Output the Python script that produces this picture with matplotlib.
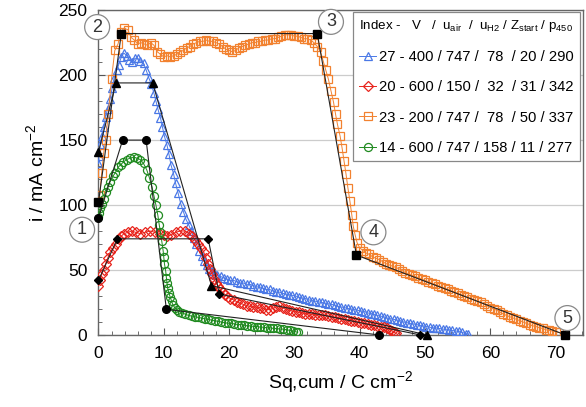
import matplotlib
matplotlib.use("Agg")
import matplotlib.pyplot as plt
from matplotlib.ticker import MultipleLocator

plt.rcParams['font.family'] = ['Liberation Sans', 'DejaVu Sans']
plt.rcParams['mathtext.fontset'] = 'custom'
plt.rcParams['mathtext.rm'] = 'Liberation Sans'
plt.rcParams['mathtext.it'] = 'Liberation Sans'

# ---------------- data ----------------
orange_x = [0.0, 0.2, 0.5, 0.8, 1.1, 1.5, 2.0, 2.5, 3.0, 3.4, 3.9, 4.5, 5.0, 5.5, 6.0, 6.5, 7.0, 7.5, 8.0, 8.5,
            9.0, 9.5, 10.0, 10.5, 11.0, 11.5, 12.0, 12.5, 13.0, 13.5, 14.0, 14.5, 15.0, 15.5, 16.0, 16.5, 17.0,
            17.5, 18.0, 18.5, 19.0, 19.5, 20.0, 20.5, 21.0, 21.5, 22.0, 22.5, 23.0, 23.5, 24.0, 24.5, 25.0, 25.5,
            26.0, 26.5, 27.0, 27.5, 28.0, 28.5, 29.0, 29.5, 30.0, 30.5, 31.0, 31.5, 32.0, 32.5, 33.0, 33.5, 34.0,
            34.4, 34.8, 35.2, 35.6, 36.0, 36.3, 36.6, 37.0, 37.3, 37.6, 37.9, 38.2, 38.5, 38.8, 39.0, 39.3, 39.6,
            40.0, 40.5, 41.0, 41.5, 42.0, 42.5, 43.0, 43.5, 44.0, 44.5, 45.0, 45.5, 46.0, 46.5, 47.0, 47.5, 48.0,
            48.5, 49.0, 49.5, 50.0, 50.5, 51.0, 51.5, 52.0, 52.5, 53.0, 53.5, 54.0, 54.5, 55.0, 55.5, 56.0, 56.5,
            57.0, 57.5, 58.0, 58.5, 59.0, 59.5, 60.0, 60.5, 61.0, 61.5, 62.0, 62.5, 63.0, 63.5, 64.0, 64.5, 65.0,
            65.5, 66.0, 66.5, 67.0, 67.5, 68.0, 68.5, 69.0, 69.5, 70.0, 70.5]
orange_y = [103, 108, 125, 140, 150, 170, 197, 219, 224, 233, 236, 235, 229, 227, 224, 225, 224, 223, 225, 223,
            218, 216, 214, 215, 214, 215, 216, 218, 219, 221, 222, 224, 225, 226, 226, 227, 226,
            226, 225, 224, 222, 220, 219, 218, 219, 221, 222, 223, 224, 225, 225, 226, 226, 227,
            227, 228, 228, 229, 230, 231, 231, 231, 230, 230, 229, 228, 228, 227, 225, 222, 218,
            211, 204, 197, 188, 179, 170, 162, 153, 144, 134, 124, 113, 103, 92, 84, 77, 71,
            67, 65, 63, 62, 60, 59, 58, 56.5, 55, 54, 53, 52, 51, 49.5, 48, 47, 46,
            45, 44, 43, 42, 41, 40, 39, 38, 37, 36, 35, 34, 33, 32, 31, 30, 29,
            28, 27, 26, 25, 24, 22.5, 21, 20, 19, 17.5, 16, 15, 14, 13, 12, 11, 10,
            9, 8, 7, 6.5, 5.5, 5, 4, 3.5, 3, 2.5, 2]

blue_x = [0.0, 0.1, 0.3, 0.5, 0.8, 1.1, 1.4, 1.8, 2.1, 2.4, 2.8, 3.1, 3.5, 3.9, 4.3, 4.7, 5.2, 5.6, 6.0, 6.4,
          6.9, 7.3, 7.7, 8.1, 8.5, 8.8, 9.1, 9.5, 9.8, 10.1, 10.5, 10.8, 11.1, 11.5, 11.8, 12.2, 12.6, 13.0,
          13.4, 13.8, 14.2, 14.6, 15.0, 15.4, 15.8, 16.2, 16.6, 17.0, 17.4, 17.8, 18.2, 18.7, 19.2, 19.7, 20.2,
          20.7, 21.2, 21.7, 22.2, 22.7, 23.2, 23.7, 24.2, 24.7, 25.2, 25.7, 26.2, 26.7, 27.2, 27.7, 28.2, 28.7,
          29.2, 29.7, 30.2, 30.7, 31.2, 31.7, 32.2, 32.7, 33.2, 33.7, 34.2, 34.7, 35.2, 35.7, 36.2, 36.7, 37.2,
          37.7, 38.2, 38.7, 39.2, 39.7, 40.2, 40.7, 41.2, 41.7, 42.2, 42.7, 43.2, 43.7, 44.2, 44.7, 45.2, 45.7,
          46.2, 46.7, 47.2, 47.7, 48.2, 48.7, 49.2, 49.7, 50.2, 50.7, 51.2, 51.7, 52.2, 52.7, 53.2, 53.7, 54.2,
          54.7, 55.2, 55.7, 56.2, 56.6]
blue_y = [132, 138, 147, 153, 160, 168, 174, 182, 190, 198, 204, 208, 214, 217, 215, 212, 210, 213, 213, 211,
          209, 204, 198, 193, 186, 180, 174, 167, 160, 153, 146, 139, 131, 124, 117, 109, 101, 95,
          89, 85, 80, 75, 70, 65, 61, 57, 54, 51, 49, 47, 46, 45, 44, 43, 42,
          42, 41, 40, 40, 39, 39, 38, 37, 37, 36, 35, 35, 34, 33, 33, 32, 31.5,
          31, 30.5, 30, 29, 28.5, 28, 27, 26.5, 26, 25.5, 25, 24.5, 24, 23.5, 23, 22, 21.5,
          21, 20.5, 20, 19.5, 19, 18.5, 18, 17, 16.5, 16, 15, 14.5, 14, 13, 12.5, 12, 11.5,
          11, 10, 9.5, 9, 8.5, 8, 7.5, 7, 6.5, 6, 5.5, 5.5, 5, 4.5, 4.5, 4, 3.5,
          3, 3, 2, 1, 0.5]

red_x = [0.0, 0.2, 0.5, 0.8, 1.1, 1.4, 1.8, 2.3, 2.7, 3.1, 3.5, 3.9, 4.5, 5.1, 5.7, 6.4, 7.1, 7.9, 8.7, 9.5,
         10.0, 10.5, 11.1, 11.8, 12.5, 13.3, 13.9, 14.4, 14.8, 15.3, 15.7, 16.1, 16.5, 16.8, 17.1, 17.4, 17.7,
         18.0, 18.3, 18.6, 19.0, 19.4, 19.8, 20.2, 20.7, 21.2, 21.7, 22.2, 22.7, 23.2, 23.7, 24.2, 24.7, 25.2,
         25.7, 26.2, 26.7, 27.2, 27.7, 28.2, 28.7, 29.2, 29.7, 30.2, 30.7, 31.2, 31.7, 32.2, 32.7, 33.2, 33.7,
         34.2, 34.7, 35.2, 35.7, 36.2, 36.7, 37.2, 37.7, 38.2, 38.7, 39.2, 39.7, 40.2, 40.7, 41.2, 41.7, 42.2,
         42.7, 43.2, 43.7, 44.2, 44.7, 45.0, 45.3, 45.6]
red_y = [38, 42, 47, 50, 55, 59, 64, 67, 70, 74, 76, 78, 79, 80, 79, 78, 79, 80, 79, 78,
         77, 76, 77, 79, 80, 80, 78, 76, 73, 70, 67, 64, 59, 55, 51, 47, 43,
         40, 38, 35, 33, 31, 29.5, 28, 27, 25.5, 24.5, 23.5, 22.5, 22, 21.5, 21.5, 21, 20.5,
         19.5, 19.5, 20.5, 21.5, 22, 21, 20, 19, 18.5, 18, 17.5, 17, 16.5, 16.5, 16, 15.5, 15.5,
         15, 15, 14.5, 14, 13.5, 13, 12.5, 12, 11.5, 11, 10.5, 10, 9.5, 9, 8.5, 8, 7.5,
         7, 6.5, 6, 5, 4, 3, 2, 1.2]

green_x = [0.0, 0.1, 0.3, 0.5, 0.8, 1.1, 1.4, 1.8, 2.2, 2.6, 3.0, 3.4, 3.8, 4.3, 4.8, 5.4, 5.9, 6.4, 6.9, 7.4,
           7.8, 8.2, 8.5, 8.8, 9.1, 9.3, 9.5, 9.7, 9.9, 10.0, 10.1, 10.3, 10.4, 10.5, 10.6, 10.8, 11.0, 11.2,
           11.4, 11.7, 12.0, 12.4, 12.8, 13.3, 13.8, 14.3, 14.8, 15.3, 15.8, 16.3, 16.8, 17.3, 17.8, 18.3, 18.8,
           19.3, 19.8, 20.3, 20.8, 21.3, 21.8, 22.3, 22.8, 23.3, 23.8, 24.3, 24.8, 25.3, 25.8, 26.3, 26.8, 27.3,
           27.8, 28.3, 28.8, 29.3, 29.8, 30.2, 30.5]
green_y = [91, 94, 98, 101, 105, 110, 114, 118, 122, 125, 129, 131, 133, 135, 136, 137, 136, 135, 132, 127,
           121, 114, 107, 100, 92, 85, 79, 72, 65, 60, 55, 49, 44, 40, 36, 32, 29, 26,
           23, 21, 19.5, 18, 17, 16, 15, 14.5, 14, 13.5, 13, 12.5, 12, 11.5, 11, 10.5, 10,
           9.5, 9, 9, 8.5, 8, 8, 7.5, 7, 7, 6.5, 6.5, 6, 6, 5.5, 5.5, 5, 5,
           4.5, 4.5, 4, 3.5, 3, 2.5, 2]

# schematic (black) segments
orange_sch_x = [0, 3.5, 33.5, 39.5, 71.5]
orange_sch_y = [102, 232, 232, 61.5, 0]
blue_sch_x = [0, 2.7, 8.3, 17.3, 50.3]
blue_sch_y = [141, 194, 194, 38, 0]
red_sch_x = [0, 2.9, 16.8, 18.5, 49.3]
red_sch_y = [42, 74, 74, 31.5, 0]
green_sch_x = [0, 3.7, 7.3, 10.4, 43.0]
green_sch_y = [90, 150, 150, 19.7, 0]

legend_title = (r"Index -   V   /  u$_{\rm air}$  /  u$_{\rm H2}$ / Z$_{\rm start}$ / p$_{450}$")
labels = ["27 - 400 / 747 /  78  / 20 / 290",
          "20 - 600 / 150 /  32  / 31 / 342",
          "23 - 200 / 747 /  78  / 50 / 337",
          "14 - 600 / 747 / 158 / 11 / 277"]

circle_labels = ["1", "2", "3", "4", "5"]
circle_x = [-2.5, -0.2, 35.6, 42.1, 71.8]
circle_y = [81, 237, 241, 79, 13]

# ---------------- plot ----------------
c_blue = "#4a78e6"
c_red = "#e8241c"
c_orange = "#f28230"
c_green = "#1f8a1f"

fig = plt.figure(figsize=(5.86, 4.07), dpi=100)
ax = fig.add_axes([0.168, 0.177, 0.827, 0.798])

ax.yaxis.grid(True, color="#cccccc", lw=0.9, zorder=0)
ax.set_axisbelow(True)

ms = 5.8
mew = 0.9
h_blue, = ax.plot(blue_x, blue_y, '-', marker='^', ms=ms, mew=mew, mfc='none', color=c_blue, lw=0.7,
                  label=labels[0], zorder=3)
h_red, = ax.plot(red_x, red_y, '-', marker='D', ms=4.6, mew=mew, mfc='none', color=c_red, lw=0.7,
                 label=labels[1], zorder=3)
h_orange, = ax.plot(orange_x, orange_y, '-', marker='s', ms=ms, mew=mew, mfc='none', color=c_orange, lw=0.7,
                    label=labels[2], zorder=3)
h_green, = ax.plot(green_x, green_y, '-', marker='o', ms=ms, mew=mew, mfc='none', color=c_green, lw=0.7,
                   label=labels[3], zorder=3)

sch_kw = dict(color='#222222', lw=0.8, mfc='black', mec='black', zorder=4, clip_on=False)
ax.plot(orange_sch_x, orange_sch_y, marker='s', ms=5.5, **sch_kw)
ax.plot(blue_sch_x, blue_sch_y, marker='^', ms=6, **sch_kw)
ax.plot(red_sch_x, red_sch_y, marker='D', ms=4.5, **sch_kw)
ax.plot(green_sch_x, green_sch_y, marker='o', ms=5.5, **sch_kw)

for t, x, y in zip(circle_labels, circle_x, circle_y):
    ax.text(x, y, t, ha='center', va='center', fontsize=13, color='#333333', zorder=6, clip_on=False,
            bbox=dict(boxstyle='circle,pad=0.22', fc='white', ec='#888888', lw=0.9))

ax.set_xlim(0, 74.2)
ax.set_ylim(0, 250)
ax.xaxis.set_major_locator(MultipleLocator(10))
ax.xaxis.set_minor_locator(MultipleLocator(2))
ax.yaxis.set_major_locator(MultipleLocator(50))
ax.yaxis.set_minor_locator(MultipleLocator(10))
ax.tick_params(which='both', direction='in', color='#555555', top=False, right=False)
ax.tick_params(which='major', length=5, labelsize=12.5, pad=8)
ax.tick_params(which='minor', length=3)
for s in ax.spines.values():
    s.set_color('#666666')
    s.set_linewidth(1.0)

ax.set_xlabel(r"Sq,cum / C cm$^{-2}$", fontsize=14, labelpad=6)
ax.set_ylabel(r"i / mA cm$^{-2}$", fontsize=14, labelpad=8)

leg = ax.legend(handles=[h_blue, h_red, h_orange, h_green], title=legend_title,
                loc='upper right', bbox_to_anchor=(0.9935, 0.994), fontsize=10.6,
                title_fontsize=9.6, alignment='left', frameon=True, fancybox=False,
                edgecolor='#888888', framealpha=1, handlelength=1.2, handletextpad=0.2,
                labelspacing=1.1, borderpad=0.4, borderaxespad=0.0)
leg.get_frame().set_linewidth(0.9)
leg.set_zorder(7)

fig.savefig("out.png", dpi=100)
